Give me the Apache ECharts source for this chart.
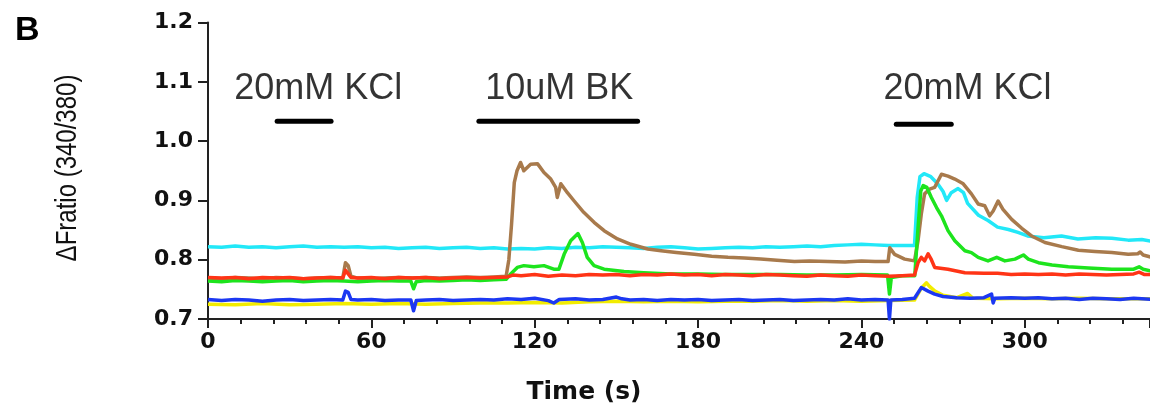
<!DOCTYPE html>
<html>
<head>
<meta charset="utf-8">
<script src="https://cdn.jsdelivr.net/npm/echarts@6/dist/echarts.min.js"></script>
<style>
  html, body { margin: 0; padding: 0; background: #fff; }
  #chart { width: 1150px; height: 414px; }
</style>
</head>
<body>
<div id="chart"></div>
<script>
// 时间轴刻度
const xTicks = [0, 60, 120, 180, 240, 300]
const yTicks = [0.7, 0.8, 0.9, 1.0, 1.1, 1.2]

// 刺激标记: [开始, 结束, 高度]
const stimBars = [[25.4, 45.2, 1.0335], [99.5, 157.8, 1.0335], [252.8, 273, 1.0285]]
const stimLabels = [['20mM KCl', 40.5, 1.0885], ['10uM BK', 129, 1.0885], ['20mM KCl', 279, 1.0885]]

// 各细胞的 ΔFratio 曲线 [t, value]
const yellowTrace = [[0,0.725],[10,0.724],[20,0.726],[30,0.724],[40,0.725],[50,0.726],[60,0.725],[70,0.726],[80,0.725],[90,0.726],[100,0.727],[110,0.727],[120,0.728],[130,0.727],[140,0.729],[150,0.730],[160,0.729],[170,0.730],[180,0.729],[190,0.730],[200,0.730],[210,0.731],[220,0.730],[230,0.731],[240,0.730],[250,0.731],[259.5,0.732],[262,0.752],[263.9,0.761],[265,0.755],[267,0.747],[270,0.740],[275,0.736],[279,0.743],[281,0.735],[290,0.734],[300,0.735],[310,0.734],[320,0.735],[330,0.734],[346.5,0.734]]

const blueTrace = [[0,0.733],[5,0.731],[10,0.733],[15,0.732],[20,0.730],[25,0.732],[30,0.733],[35,0.731],[40,0.732],[45,0.733],[49.5,0.732],[50.5,0.747],[51.5,0.745],[52.5,0.733],[55,0.732],[60,0.733],[65,0.731],[70,0.732],[74.5,0.732],[75.5,0.714],[76.5,0.731],[80,0.732],[85,0.733],[90,0.731],[95,0.732],[100,0.733],[105,0.732],[110,0.734],[115,0.733],[120,0.735],[125,0.731],[127,0.727],[129,0.733],[135,0.734],[140,0.732],[145,0.733],[150,0.737],[152,0.734],[155,0.732],[160,0.733],[165,0.731],[170,0.733],[175,0.732],[180,0.733],[185,0.731],[190,0.732],[195,0.733],[200,0.731],[205,0.732],[210,0.733],[215,0.731],[220,0.732],[225,0.733],[230,0.732],[235,0.734],[240,0.732],[245,0.733],[249.8,0.732],[250.3,0.700],[250.8,0.732],[255,0.733],[259.5,0.735],[262,0.753],[264.5,0.747],[266.9,0.742],[270,0.738],[275,0.736],[280,0.735],[285,0.736],[287.8,0.742],[288.4,0.727],[289,0.735],[295,0.736],[300,0.735],[305,0.736],[310,0.734],[315,0.735],[320,0.733],[325,0.735],[330,0.734],[335,0.733],[340,0.735],[346.5,0.733]]

const cyanTrace = [[0,0.822],[5,0.821],[10,0.823],[15,0.821],[20,0.822],[25,0.820],[30,0.822],[35,0.823],[40,0.821],[45,0.822],[50,0.821],[55,0.822],[60,0.820],[65,0.821],[70,0.819],[75,0.820],[80,0.821],[85,0.819],[90,0.820],[95,0.821],[100,0.819],[105,0.820],[110,0.818],[115,0.819],[120,0.818],[125,0.820],[130,0.819],[135,0.821],[140,0.820],[145,0.822],[150,0.821],[155,0.820],[160,0.819],[165,0.821],[170,0.822],[175,0.820],[180,0.818],[185,0.819],[190,0.820],[195,0.821],[200,0.820],[205,0.822],[210,0.821],[215,0.822],[220,0.823],[225,0.822],[230,0.824],[235,0.825],[240,0.826],[245,0.825],[250,0.824],[255,0.824],[259.5,0.824],[260.5,0.905],[261.5,0.940],[263,0.945],[265.5,0.940],[268,0.928],[270,0.915],[271.3,0.900],[273,0.913],[275.5,0.920],[277.5,0.913],[279,0.895],[283,0.875],[286.5,0.866],[290,0.855],[294,0.851],[297.5,0.846],[301,0.840],[307,0.837],[313.5,0.840],[319.5,0.835],[326,0.837],[332,0.836],[338,0.833],[343,0.834],[346.5,0.831]]

const brownTrace = [[0,0.769],[5,0.768],[10,0.770],[15,0.769],[20,0.768],[25,0.770],[30,0.769],[35,0.768],[40,0.769],[45,0.770],[49.5,0.769],[50.5,0.795],[51.5,0.790],[52.5,0.772],[55,0.769],[60,0.768],[65,0.769],[70,0.770],[75,0.769],[80,0.770],[85,0.769],[90,0.770],[95,0.771],[100,0.770],[105,0.771],[109.5,0.772],[110.5,0.800],[111.5,0.860],[112.5,0.930],[113.5,0.950],[114.8,0.964],[116,0.950],[118.5,0.961],[121,0.962],[123.4,0.947],[125.9,0.936],[127.7,0.922],[128.3,0.905],[129.6,0.928],[132,0.913],[134.5,0.899],[138,0.880],[141.8,0.863],[145.5,0.849],[150.4,0.835],[155.3,0.826],[161.5,0.818],[166.4,0.815],[172,0.812],[178.6,0.809],[185,0.806],[191,0.804],[197,0.803],[203,0.801],[209,0.799],[215.4,0.797],[221,0.798],[227.7,0.797],[234,0.796],[240,0.798],[245,0.797],[249.8,0.797],[250.4,0.820],[252.2,0.809],[255.9,0.801],[259.5,0.798],[260.8,0.832],[262,0.877],[263.2,0.911],[265,0.919],[266.9,0.922],[269.4,0.944],[271.8,0.941],[274.3,0.936],[277.4,0.928],[280.4,0.911],[282.9,0.894],[285.3,0.891],[287.1,0.874],[288.4,0.882],[290.2,0.899],[292,0.885],[295.2,0.868],[298.9,0.853],[302.5,0.840],[307.4,0.829],[313.6,0.822],[319.7,0.816],[325.8,0.814],[332,0.812],[338,0.809],[341.5,0.810],[342.4,0.813],[343.5,0.808],[346.5,0.804]]

const greenTrace = [[0,0.764],[5,0.763],[10,0.765],[15,0.764],[20,0.763],[25,0.764],[30,0.765],[35,0.763],[40,0.764],[45,0.765],[50,0.764],[55,0.763],[60,0.764],[65,0.765],[70,0.764],[74.5,0.764],[75.5,0.751],[76.5,0.763],[80,0.765],[85,0.764],[90,0.765],[95,0.766],[100,0.765],[105,0.766],[109.5,0.767],[111,0.775],[113.6,0.787],[116,0.790],[119.7,0.788],[123.4,0.790],[127,0.784],[128.9,0.784],[130.8,0.809],[133.2,0.832],[135.9,0.844],[137.5,0.829],[139.3,0.804],[141.8,0.790],[145.5,0.784],[152.8,0.780],[160,0.778],[170,0.776],[180,0.776],[190,0.775],[200,0.775],[210,0.775],[220,0.774],[230,0.774],[240,0.775],[249.6,0.774],[250.3,0.742],[251,0.770],[255,0.773],[259.6,0.773],[260.8,0.854],[261.8,0.916],[262.7,0.925],[264,0.922],[265.7,0.905],[267.6,0.888],[269.4,0.874],[271.8,0.849],[274.3,0.832],[278,0.815],[280.4,0.812],[282.9,0.804],[286.5,0.798],[289.7,0.804],[292.7,0.798],[296.4,0.801],[299.5,0.808],[301.3,0.801],[305,0.795],[310,0.791],[316,0.788],[323.4,0.786],[332,0.784],[340,0.784],[342,0.788],[343.5,0.784],[346.5,0.781]]

const redTrace = [[0,0.770],[5,0.769],[10,0.770],[15,0.768],[20,0.770],[25,0.769],[30,0.770],[35,0.768],[40,0.769],[45,0.770],[49.5,0.769],[50.5,0.782],[51.5,0.776],[52.5,0.770],[55,0.769],[60,0.770],[65,0.768],[70,0.770],[75,0.769],[80,0.770],[85,0.768],[90,0.769],[95,0.770],[100,0.769],[105,0.770],[110,0.771],[112,0.774],[115,0.773],[120,0.775],[125,0.772],[130,0.774],[135,0.773],[140,0.775],[145,0.774],[150,0.775],[155,0.773],[160,0.775],[165,0.774],[170,0.776],[175,0.774],[180,0.775],[185,0.773],[190,0.775],[195,0.774],[200,0.773],[205,0.775],[210,0.774],[215,0.773],[220,0.772],[225,0.774],[230,0.773],[235,0.772],[240,0.774],[245,0.773],[250,0.772],[255,0.773],[259.5,0.774],[260.8,0.795],[262,0.804],[263.2,0.798],[264.5,0.810],[265.7,0.800],[266.9,0.787],[271.8,0.784],[278,0.778],[285,0.777],[290,0.777],[295,0.775],[300,0.776],[305,0.775],[310,0.776],[315,0.774],[320,0.776],[325,0.775],[330,0.774],[335,0.775],[340,0.776],[342,0.779],[344,0.775],[346.5,0.775]]

const traces = [
    ['yellow', yellowTrace, '#f2ec00'],
    ['blue', blueTrace, '#1c38f2'],
    ['cyan', cyanTrace, '#22e8f8'],
    ['brown', brownTrace, '#a87a4c'],
    ['green', greenTrace, '#1de41d'],
    ['red', redTrace, '#ff3416']
]

function draw() {
    const myChart = echarts.init(document.getElementById('chart'))
    const axisColor = '#222'
    const labelFont = { fontFamily: 'DejaVu Sans', fontWeight: 'bold', fontSize: 22, color: '#111' }

    const series = traces.map(t => ({
        name: t[0],
        type: 'line',
        data: t[1],
        showSymbol: false,
        symbol: 'none',
        lineStyle: { color: t[2], width: 3.5, join: 'round' },
        z: 2
    }))
    // 刺激横线
    stimBars.forEach(b => {
        series.push({
            type: 'line',
            data: [[b[0], b[2]], [b[1], b[2]]],
            symbol: 'none',
            lineStyle: { color: '#000', width: 5, cap: 'round' },
            z: 3
        })
    })
    // 刺激文字
    series.push({
        type: 'scatter',
        symbolSize: 0,
        data: stimLabels.map(s => ({ value: [s[1], s[2]], name: s[0] })),
        label: {
            show: true,
            position: 'inside',
            formatter: '{b}',
            fontFamily: 'Liberation Sans, Arial, sans-serif',
            fontSize: 36,
            color: '#000'
        },
        z: 3
    })

    const option = {
        animation: false,
        title: {
            text: 'B',
            left: 10,
            top: 9,
            textStyle: { fontFamily: 'Liberation Sans', fontWeight: 'bold', fontSize: 34, color: '#000' }
        },
        // y轴标题 (窄体)
        graphic: [{
            type: 'text',
            x: 68,
            y: 168,
            rotation: Math.PI / 2,
            scaleX: 0.8,
            style: {
                text: 'ΔFratio (340/380)',
                font: '30px "Liberation Sans", sans-serif',
                fill: '#111',
                textAlign: 'center',
                textVerticalAlign: 'middle'
            }
        }],
        grid: { left: 208, right: 0, top: 22.5, bottom: 95 },
        xAxis: [
            {
                type: 'value',
                min: 0,
                max: 346,
                interval: 12,
                position: 'bottom',
                name: 'Time (s)',
                nameLocation: 'middle',
                nameGap: 61,
                nameTextStyle: {
                    fontFamily: 'DejaVu Sans', fontWeight: 'bold', fontSize: 25, color: '#111',
                    padding: [0, 190, 0, 0]
                },
                axisLine: { lineStyle: { color: axisColor, width: 2 } },
                axisTick: { length: 5, lineStyle: { color: axisColor, width: 2 } },
                axisLabel: Object.assign({
                    margin: 12,
                    showMaxLabel: false,
                    formatter: v => (xTicks.indexOf(v) >= 0 ? String(v) : '')
                }, labelFont),
                splitLine: { show: false }
            },
            {
                type: 'value',
                min: 0,
                max: 346,
                interval: 60,
                position: 'bottom',
                axisLine: { show: false },
                axisTick: { length: 9, lineStyle: { color: axisColor, width: 2 } },
                axisLabel: { show: false },
                splitLine: { show: false }
            }
        ],
        yAxis: {
            type: 'value',
            min: 0.7,
            max: 1.2,
            interval: 0.1,
            axisLine: { show: true, lineStyle: { color: axisColor, width: 2 } },
            axisTick: { show: true, length: 10, lineStyle: { color: axisColor, width: 2 } },
            axisLabel: Object.assign({
                margin: 15,
                formatter: v => (yTicks.find(t => Math.abs(t - v) < 1e-6) || v).toFixed(1)
            }, labelFont),
            splitLine: { show: false }
        },
        series: series
    }
    myChart.setOption(option)
}
draw()
</script>
</body>
</html>
